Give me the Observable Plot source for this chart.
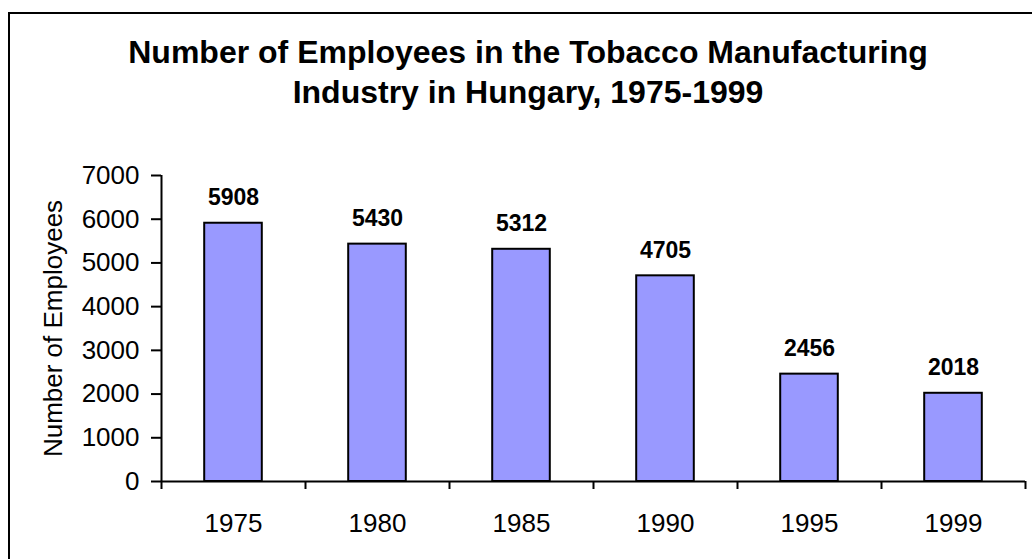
<!DOCTYPE html>
<html><head><meta charset="utf-8">
<script src="https://cdn.jsdelivr.net/npm/d3@7"></script>
<script src="https://cdn.jsdelivr.net/npm/@observablehq/plot@0.6"></script>
<style>
html,body{margin:0;padding:0;background:#fff;overflow:hidden;}
#wrap{position:relative;width:1032px;height:559px;overflow:hidden;font-family:"Liberation Sans",Arial,sans-serif;}
#border{position:absolute;left:8px;top:12px;width:1100px;height:700px;border:2px solid #000;box-sizing:border-box;}
#title{position:absolute;left:0;top:32px;width:1056px;text-align:center;font-weight:bold;font-size:32px;line-height:40px;color:#000;}
#chart{position:absolute;left:0;top:0;}
</style></head>
<body><div id="wrap"><div id="border"></div><div id="title">Number of Employees in the Tobacco Manufacturing<br>Industry in Hungary, 1975-1999</div><div id="chart"></div></div>
<script>
const years = ["1975", "1980", "1985", "1990", "1995", "1999"];
const employees = [5908, 5430, 5312, 4705, 2456, 2018];
const yTicks = [0, 1000, 2000, 3000, 4000, 5000, 6000, 7000];
const yLabel = "Number of Employees";

const data = years.map((year, i) => ({year, i, value: employees[i]}));
const bandEdges = d3.range(0, years.length + 1);
const bandCenters = d3.range(years.length).map(i => i + 0.5);

const chart = Plot.plot({
  width: 1032,
  height: 559,
  marginTop: 175,
  marginBottom: 78,
  marginLeft: 161,
  marginRight: 7,
  style: {fontFamily: '"Liberation Sans", Arial, sans-serif', color: "black", background: "transparent"},
  x: {domain: [0, years.length]},
  y: {domain: [0, 7000]},
  marks: [
    Plot.rectY(data, {x1: d => d.i + 0.3, x2: d => d.i + 0.7, y1: 0, y2: "value", fill: "#9999ff", stroke: "black", strokeWidth: 2}),
    Plot.text(data, {x: d => d.i + 0.5, y: "value", text: d => String(d.value), lineAnchor: "bottom", dy: -18, fontSize: 23, fontWeight: "bold", fill: "black"}),
    Plot.ruleY([0], {stroke: "black", strokeWidth: 2}),
    Plot.ruleX([0], {stroke: "black", strokeWidth: 2}),
    Plot.axisY(yTicks, {tickSize: 10, tickPadding: 12, tickFormat: d => String(d), fontSize: 26, strokeWidth: 2, label: null}),
    Plot.axisX(bandEdges, {tickSize: 8, tickFormat: () => "", strokeWidth: 2, label: null}),
    Plot.axisX(bandCenters, {tickSize: 0, tickPadding: 32, tickFormat: v => years[Math.floor(v)], fontSize: 26, label: null}),
    Plot.text([yLabel], {frameAnchor: "left", textAnchor: "middle", rotate: -90, dx: -100, lineAnchor: "bottom", fontSize: 26, fill: "black"})
  ]
});
document.getElementById("chart").appendChild(chart);
</script>
</body></html>
